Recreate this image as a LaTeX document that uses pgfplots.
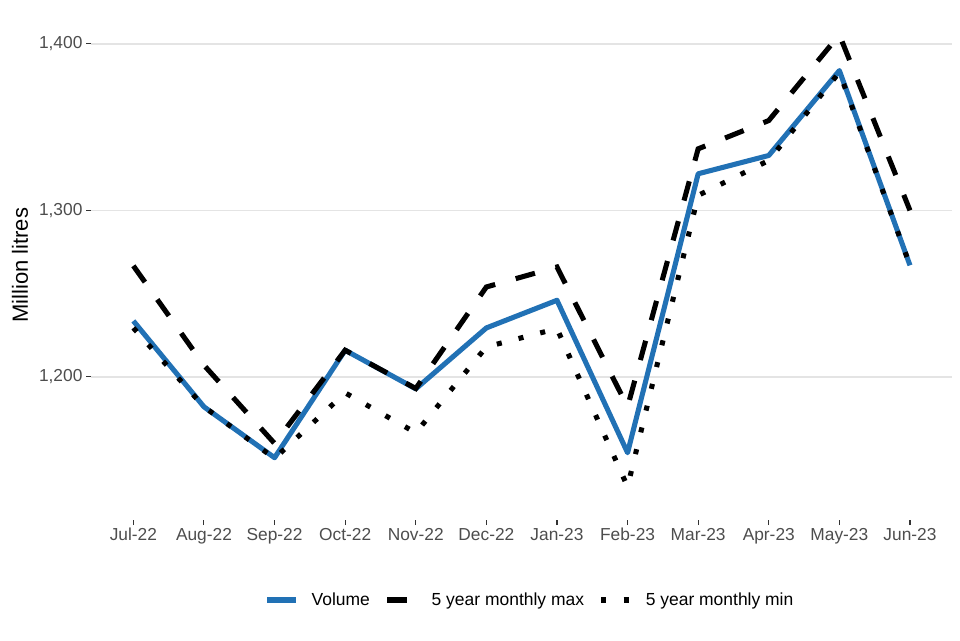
\documentclass[border=0pt]{standalone}
\usepackage{fontspec}
\setmainfont{Liberation Sans}
\usepackage{pgfplots}
\pgfplotsset{compat=1.18}
\definecolor{volblue}{RGB}{33,113,181}
\definecolor{gridgray}{RGB}{228,228,228}
\definecolor{ticktext}{RGB}{77,77,77}
\definecolor{tickcol}{RGB}{51,51,51}
\begin{document}
\begin{tikzpicture}
\path[use as bounding box] (0,0) rectangle (720pt,480pt);
\begin{axis}[
  at={(68.25pt,90pt)}, anchor=south west,
  scale only axis,
  width=646pt, height=382pt,
  xmin=-0.6, xmax=11.6,
  ymin=1114, ymax=1420,
  axis x line*=bottom, axis y line*=left,
  axis line style={draw=none},
  xtick={0,...,11},
  xticklabels={Jul-22,Aug-22,Sep-22,Oct-22,Nov-22,Dec-22,Jan-23,Feb-23,Mar-23,Apr-23,May-23,Jun-23},
  ytick={1200,1300,1400},
  yticklabels={{1,200},{1,300},{1,400}},
  tick align=outside,
  major tick length=3.75pt,
  tick style={color=tickcol, line width=0.8pt},
  ticklabel style={font=\fontsize{13}{15}\selectfont, text=ticktext},
  yticklabel style={inner sep=2.5pt},
  xticklabel style={inner sep=2pt},
  ymajorgrids,
  grid style={line width=1.1pt, color=gridgray},
  ylabel={Million litres},
  every axis y label/.style={at={(rel axis cs:-0.0825,0.5)}, rotate=90, anchor=center, font=\fontsize{16.5}{18}\selectfont},
  clip=false,
  legend columns=3,
  legend style={at={(0.5085,-0.157)}, anchor=center, draw=none, fill=none,
    font=\fontsize{13.1}{15}\selectfont,
    column sep=0pt,
    /tikz/every odd column/.append style={column sep=9.5pt},
    /tikz/every even column/.append style={column sep=11pt},
    nodes={inner sep=0pt}},
  legend cell align=left,
  legend image code/.code={\draw[#1] (0pt,0pt) -- (22pt,0pt);},
]
\addplot[volblue, line width=3.8pt, line join=round] coordinates {
(0,1233.6) (1,1182) (2,1151.4) (3,1216) (4,1192.8) (5,1229.4) (6,1246) (7,1154.4) (8,1322) (9,1333) (10,1384) (11,1267)};
\addlegendentry{Volume}
\addplot[black, line width=3.8pt, line cap=butt, dash pattern=on 15pt off 16pt] coordinates {
(0,1266.7) (1,1207) (2,1160) (3,1216) (4,1193) (5,1254) (6,1266) (7,1182) (8,1337) (9,1354) (10,1405.5) (11,1300)};
\addlegendentry{5 year monthly max}
\addplot[black, line width=3.8pt, line cap=butt, dash pattern=on 3.8pt off 13pt] coordinates {
(0,1229.4) (1,1182) (2,1151) (3,1190.4) (4,1166.4) (5,1218) (6,1229) (7,1134) (8,1309) (9,1330) (10,1383) (11,1267)};
\addlegendentry{5 year monthly min}
\end{axis}
\end{tikzpicture}
\end{document}
